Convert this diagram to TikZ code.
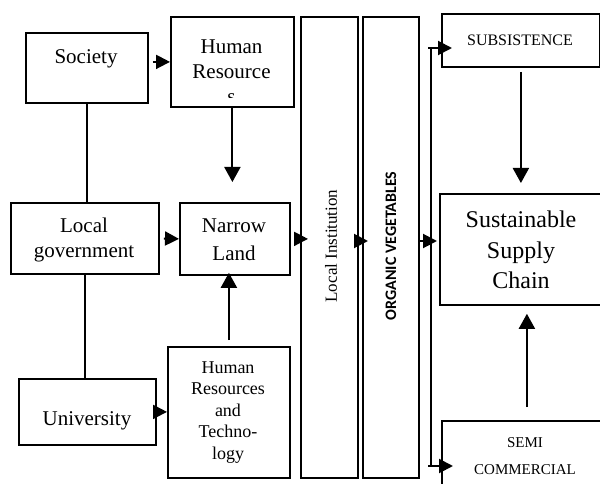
\documentclass[tikz,border=0pt]{standalone}
\usepackage{fontspec}
\setmainfont{Liberation Serif}
\newfontfamily\calibri{Carlito}
\usetikzlibrary{arrows.meta}
\newcommand\mylines[1]{\begin{tabular}[t]{@{}c@{}}#1\end{tabular}}
\tikzset{
  box/.style={draw, line width=1.8pt, anchor=north west, inner sep=0pt},
  lbl/.style={inner sep=0pt, anchor=base},
  arr/.style={line width=2pt, -{Triangle[length=14pt,width=14pt]}},
  varr/.style={line width=2pt, -{Triangle[length=15pt,width=16pt]}},
  plain/.style={line width=1.7pt},
}
\begin{document}
\begin{tikzpicture}[x=1pt,y=-1pt]
\useasboundingbox (0,0) rectangle (600,484);
\clip (0,0) rectangle (600,484);
% boxes
\node[box, minimum width=122pt, minimum height=70pt] (society) at (25,32) {};
\node[box, minimum width=123pt, minimum height=90pt] (hr) at (170,16) {};
\node[box, minimum width=148pt, minimum height=71pt] (locgov) at (10,202) {};
\node[box, minimum width=110pt, minimum height=72pt] (narrow) at (179,202) {};
\node[box, minimum width=137pt, minimum height=66pt] (univ) at (18,378) {};
\node[box, minimum width=122pt, minimum height=131pt] (hrt) at (167,346) {};
\node[box, minimum width=57pt, minimum height=461pt] (li) at (300,16) {};
\node[box, minimum width=56pt, minimum height=461pt] (ov) at (362,16) {};
\node[box, minimum width=158pt, minimum height=53pt] (sub) at (441,13) {};
\node[box, minimum width=171pt, minimum height=111pt] (ssc) at (439,193) {};
\node[box, minimum width=170pt, minimum height=80pt] (semi) at (441,420) {};
% labels
\node[lbl, font=\fontsize{21}{25}\selectfont] (society-t) at (86,64) {Society};
\begin{scope}
\clip (170,16) rectangle (293,98);
\node[lbl, font=\fontsize{21}{25}\selectfont] (hr-t) at (231.5,54) {\mylines{Human\\Resource\\s}};
\end{scope}
\node[lbl, font=\fontsize{21}{25}\selectfont] (locgov-t) at (84,232) {\mylines{Local\\government}};
\node[lbl, font=\fontsize{21}{28}\selectfont] (narrow-t) at (234,233) {\mylines{Narrow\\Land}};
\node[lbl, font=\fontsize{21}{25}\selectfont] (univ-t) at (87,425) {University};
\node[lbl, font=\fontsize{18}{21.5}\selectfont] (hrt-t) at (228,373) {\mylines{Human\\Resources\\and\\Techno-\\logy}};
\node[lbl, font=\fontsize{16}{20}\selectfont] (sub-t) at (520,46) {SUBSISTENCE};
\node[lbl, font=\fontsize{24}{31}\selectfont] (ssc-t) at (521,227) {\mylines{Sustainable\\Supply\\Chain}};
\node[lbl, font=\fontsize{15}{27}\selectfont] (semi-t) at (525,447) {\mylines{SEMI\\COMMERCIAL}};
\node[inner sep=0pt, rotate=90, font=\fontsize{17}{20}\selectfont] (li-t) at (331,246) {Local Institution};
\node[inner sep=0pt, rotate=90, font=\calibri\bfseries\fontsize{16}{18}\selectfont] (ov-t) at (391,246) {ORGANIC VEGETABLES};
% bus coordinates
\coordinate (bus-top) at (431,48);
\coordinate (bus-mid) at (431,241);
\coordinate (bus-bot) at (431,466);
% connectors
\draw[plain] (society.south) -- (society.south |- locgov.north);
\draw[plain] (locgov.south) -- (locgov.south |- univ.north);
\draw[arr, shorten <=4pt] (society.east |- hr.west) -- (hr.west);
\draw[arr, shorten <=4pt] (locgov.east) -- (narrow.west);
\draw[arr, shorten <=-7pt] (univ.east) -- (univ.east -| hrt.west);
\draw[varr, shorten >=20pt] (hr.south) -- (hr.south |- narrow.north);
\draw[varr, shorten <=6pt, shorten >=-3pt] (hrt.north) -- (hrt.north |- narrow.south);
\draw[arr, shorten <=4pt, shorten >=-8pt] (narrow.east) -- (narrow.east -| li.west);
\draw[arr, shorten <=-7pt, shorten >=-6pt] (li.east |- bus-mid) -- (ov.west |- bus-mid);
\draw[arr, shorten >=2pt] (ov.east |- bus-mid) -- (ssc.west |- bus-mid);
\draw[line width=2pt] (bus-top) -- (bus-bot);
\draw[arr, shorten >=-11pt] ([xshift=-3pt]bus-top) -- (sub.west |- bus-top);
\draw[arr, shorten >=-12pt] ([xshift=-3pt]bus-bot) -- (semi.west |- bus-bot);
\draw[varr, shorten <=4pt, shorten >=10pt] (sub.south) -- (sub.south |- ssc.north);
\draw[varr, shorten <=13pt, shorten >=8pt] (semi.north) -- (semi.north |- ssc.south);
\end{tikzpicture}
\end{document}
